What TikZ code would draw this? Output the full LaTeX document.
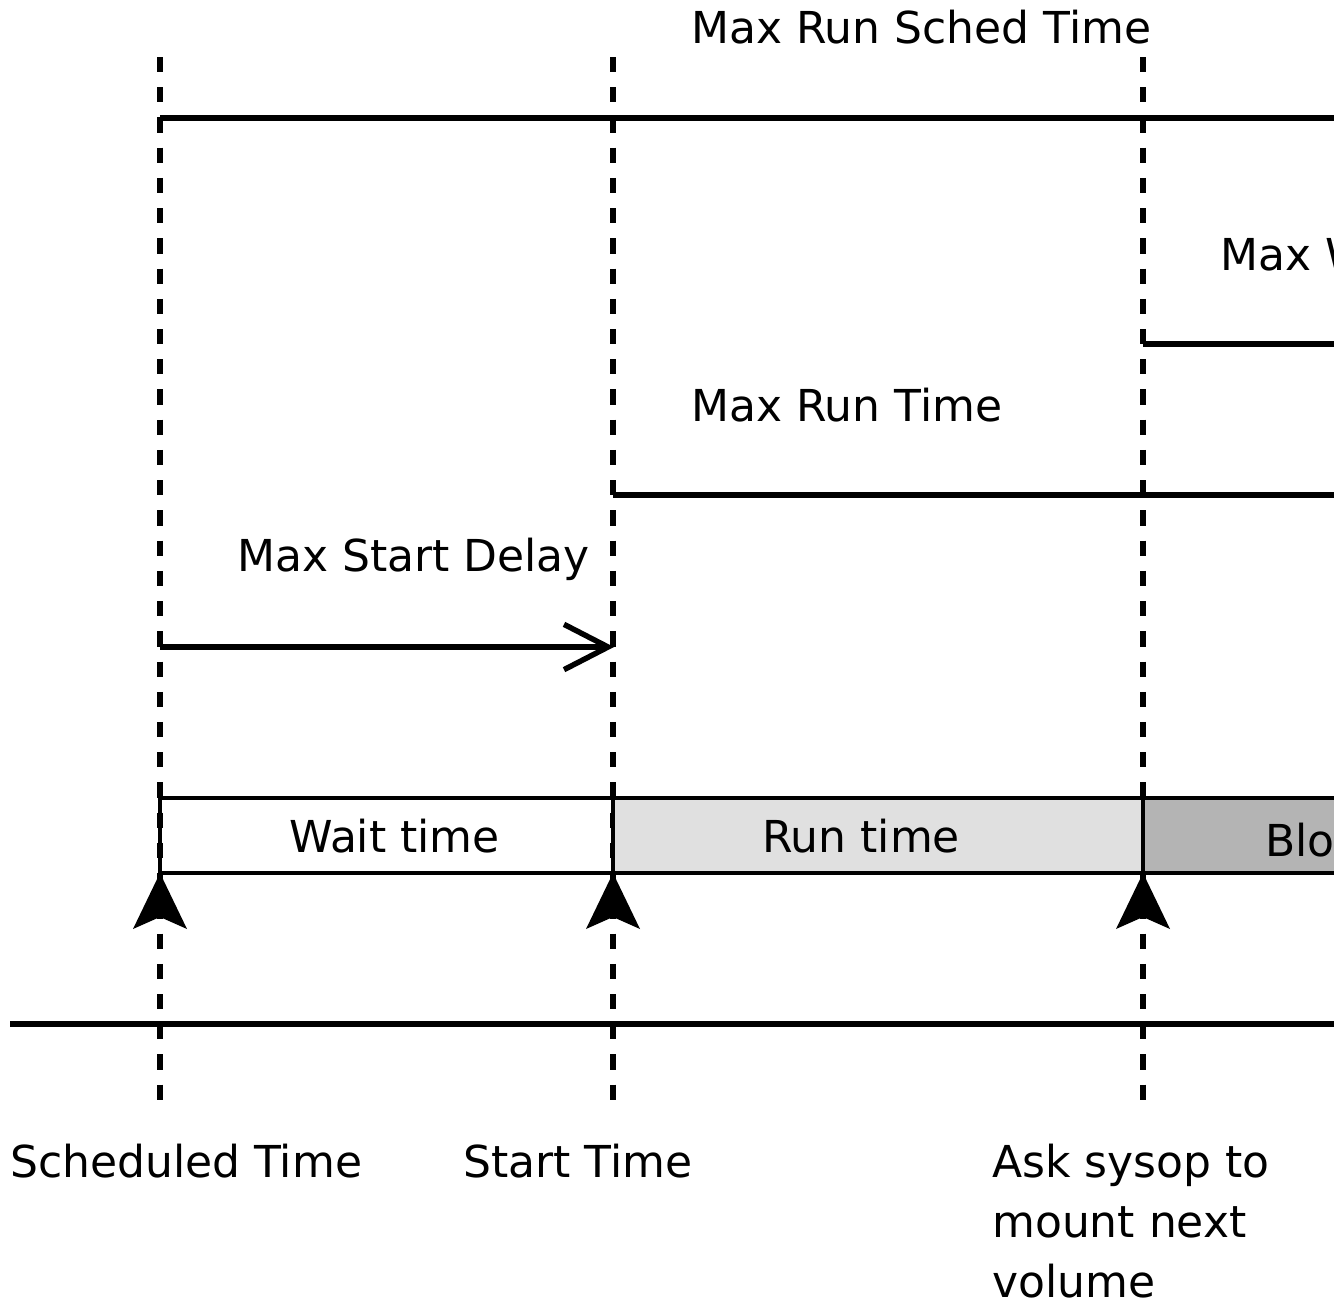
\documentclass[tikz,border=0pt]{standalone}
\usepackage{fontspec}
\setmainfont{DejaVu Sans}
\usetikzlibrary{arrows.meta}
\definecolor{runfill}{RGB}{224,224,224}
\definecolor{blockfill}{RGB}{180,180,180}
\begin{document}
\begin{tikzpicture}[x=0.75pt,y=-0.75pt,
  lbl/.style={anchor=base west,inner sep=0pt,font=\fontsize{33}{45}\selectfont},
  vdash/.style={line width=5pt,dash pattern=on 11.4pt off 11.27pt},
  bar/.style={line width=4.1pt},
  boxline/.style={line width=3.2pt},
  uphead/.style={fill=black},
]
\clip (0,0) rectangle (1334,1299);
\fill[white] (0,0) rectangle (1334,1299);

% time marks
\coordinate (s1) at (160,57);  \coordinate (e1) at (160,1101);
\coordinate (s2) at (613,57);  \coordinate (e2) at (613,1101);
\coordinate (s3) at (1143,57); \coordinate (e3) at (1143,1101);
\draw[vdash] (s1) -- (e1);
\draw[vdash] (s2) -- (e2);
\draw[vdash] (s3) -- (e3);

% limit bars
\coordinate (rsA) at (160,118);  \coordinate (rsB) at (1345,118);
\coordinate (mwA) at (1143,344); \coordinate (mwB) at (1345,344);
\coordinate (rtA) at (613,495);  \coordinate (rtB) at (1345,495);
\coordinate (sdA) at (160,647);  \coordinate (sdB) at (614,647);
\draw[bar] (rsA) -- (rsB);
\draw[bar] (mwA) -- (mwB);
\draw[bar] (rtA) -- (rtB);
\draw[bar,-{Straight Barb[length=33pt,width=34pt]}] (sdA) -- (sdB);

\node[lbl] (lrs) at (691,43) {Max Run Sched Time};
\node[lbl] (lmw) at (1220,270) {Max W};
\node[lbl] (lrt) at (691,421) {Max Run Time};
\node[lbl] (lsd) at (237,571) {Max Start Delay};

% phase boxes
\draw[boxline] (160,798) rectangle (613,873);
\draw[boxline,fill=runfill] (613,798) rectangle (1143,873);
\draw[boxline,fill=blockfill] (1143,798) rectangle (1350,873);
\node[lbl] (lwait) at (289,852) {Wait time};
\node[lbl] (lrun) at (762,852) {Run time};
\node[lbl] (lblo) at (1265,856) {Blo};

% up arrow heads
\foreach \x in {160,613,1143}{
  \fill[uphead] (\x,873) -- (\x+27,929) -- (\x,917) -- (\x-27,929) -- cycle;
}

% time axis
\coordinate (axA) at (10,1024); \coordinate (axB) at (1345,1024);
\draw[bar] (axA) -- (axB);

\node[lbl] (lsched) at (10,1177) {Scheduled Time};
\node[lbl] (lstart) at (463,1177) {Start Time};
\node[lbl,align=left,anchor=north west] (lask) at (992,1144) {Ask sysop to\\mount next\\volume};
\end{tikzpicture}
\end{document}
